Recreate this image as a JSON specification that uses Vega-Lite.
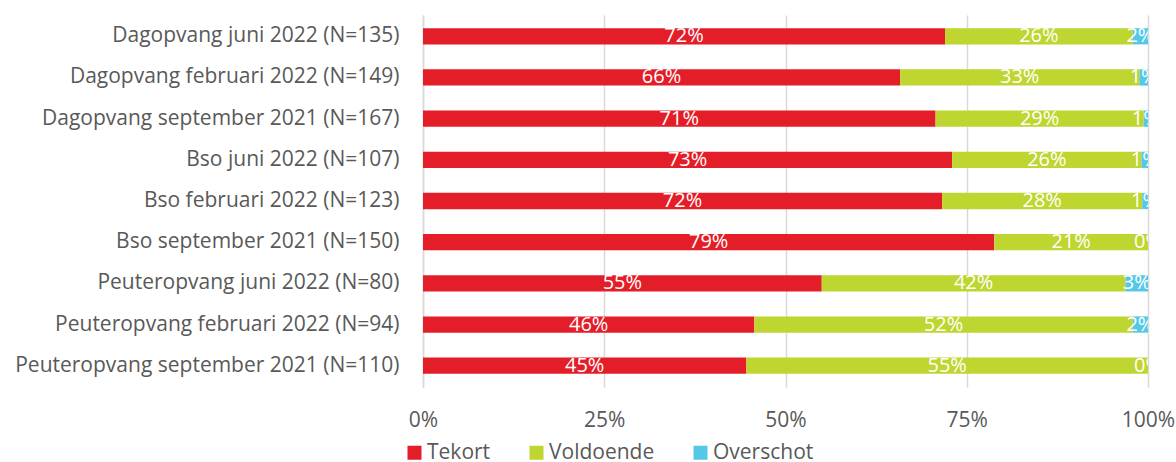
{
  "$schema": "https://vega.github.io/schema/vega-lite/v6.json",
  "width": 725,
  "height": 372,
  "autosize": {"type": "none"},
  "padding": {"left": 423, "top": 15, "right": 28, "bottom": 75},
  "config": {"font": "Open Sans", "view": {"stroke": null}},
  "data": {
    "values": [
      {"cat": "Dagopvang juni 2022 (N=135)", "s": "Tekort", "k": 1, "v": 0.72},
      {"cat": "Dagopvang juni 2022 (N=135)", "s": "Voldoende", "k": 2, "v": 0.259},
      {"cat": "Dagopvang juni 2022 (N=135)", "s": "Overschot", "k": 3, "v": 0.021},
      {"cat": "Dagopvang februari 2022 (N=149)", "s": "Tekort", "k": 1, "v": 0.658},
      {"cat": "Dagopvang februari 2022 (N=149)", "s": "Voldoende", "k": 2, "v": 0.33},
      {"cat": "Dagopvang februari 2022 (N=149)", "s": "Overschot", "k": 3, "v": 0.012},
      {"cat": "Dagopvang september 2021 (N=167)", "s": "Tekort", "k": 1, "v": 0.707},
      {"cat": "Dagopvang september 2021 (N=167)", "s": "Voldoende", "k": 2, "v": 0.287},
      {"cat": "Dagopvang september 2021 (N=167)", "s": "Overschot", "k": 3, "v": 0.006},
      {"cat": "Bso juni 2022 (N=107)", "s": "Tekort", "k": 1, "v": 0.73},
      {"cat": "Bso juni 2022 (N=107)", "s": "Voldoende", "k": 2, "v": 0.261},
      {"cat": "Bso juni 2022 (N=107)", "s": "Overschot", "k": 3, "v": 0.009},
      {"cat": "Bso februari 2022 (N=123)", "s": "Tekort", "k": 1, "v": 0.716},
      {"cat": "Bso februari 2022 (N=123)", "s": "Voldoende", "k": 2, "v": 0.276},
      {"cat": "Bso februari 2022 (N=123)", "s": "Overschot", "k": 3, "v": 0.008},
      {"cat": "Bso september 2021 (N=150)", "s": "Tekort", "k": 1, "v": 0.788},
      {"cat": "Bso september 2021 (N=150)", "s": "Voldoende", "k": 2, "v": 0.212},
      {"cat": "Bso september 2021 (N=150)", "s": "Overschot", "k": 3, "v": 0},
      {"cat": "Peuteropvang juni 2022 (N=80)", "s": "Tekort", "k": 1, "v": 0.55},
      {"cat": "Peuteropvang juni 2022 (N=80)", "s": "Voldoende", "k": 2, "v": 0.419},
      {"cat": "Peuteropvang juni 2022 (N=80)", "s": "Overschot", "k": 3, "v": 0.031},
      {"cat": "Peuteropvang februari 2022 (N=94)", "s": "Tekort", "k": 1, "v": 0.457},
      {"cat": "Peuteropvang februari 2022 (N=94)", "s": "Voldoende", "k": 2, "v": 0.522},
      {"cat": "Peuteropvang februari 2022 (N=94)", "s": "Overschot", "k": 3, "v": 0.021},
      {"cat": "Peuteropvang september 2021 (N=110)", "s": "Tekort", "k": 1, "v": 0.446},
      {"cat": "Peuteropvang september 2021 (N=110)", "s": "Voldoende", "k": 2, "v": 0.554},
      {"cat": "Peuteropvang september 2021 (N=110)", "s": "Overschot", "k": 3, "v": 0}
    ]
  },
  "transform": [
    {"stack": "v", "groupby": ["cat"], "sort": [{"field": "k", "order": "ascending"}], "as": ["v0", "v1"]},
    {"calculate": "(datum.v0 + datum.v1) / 2", "as": "mid"}
  ],
  "encoding": {
    "y": {
      "field": "cat",
      "type": "nominal",
      "sort": null,
      "scale": {"paddingInner": 0.605, "paddingOuter": 0.32},
      "axis": {
        "title": null,
        "ticks": false,
        "domain": true,
        "domainColor": "#D9D9D9",
        "domainWidth": 1.5,
        "labelPadding": 24,
        "labelLimit": 0,
        "labelFontSize": 21,
        "labelColor": "#595959",
        "labelFont": "Open Sans"
      }
    }
  },
  "layer": [
    {
      "mark": {"type": "bar"},
      "encoding": {
        "x": {
          "field": "v0",
          "type": "quantitative",
          "scale": {"domain": [0, 1], "nice": false},
          "axis": {
            "title": null,
            "format": ".0%",
            "values": [0, 0.25, 0.5, 0.75, 1],
            "grid": true,
            "gridColor": "#D9D9D9",
            "gridWidth": 1.5,
            "domain": false,
            "ticks": false,
            "labelPadding": 22,
            "labelFlush": false,
            "labelOverlap": false,
            "labelFontSize": 21,
            "labelColor": "#595959",
            "labelFont": "Open Sans"
          }
        },
        "x2": {"field": "v1"},
        "color": {
          "field": "s",
          "type": "nominal",
          "scale": {"domain": ["Tekort", "Voldoende", "Overschot"], "range": ["#E31E28", "#BFD530", "#55C8E8"]},
          "legend": {
            "title": null,
            "orient": "none",
            "direction": "horizontal",
            "legendX": -19,
            "legendY": 427,
            "symbolType": "square",
            "symbolSize": 196,
            "symbolStrokeWidth": 0,
            "symbolOpacity": 1,
            "columnPadding": 35,
            "labelOffset": 2,
            "labelFontSize": 21,
            "labelColor": "#595959",
            "labelFont": "Open Sans"
          }
        }
      }
    },
    {
      "mark": {"type": "text", "color": "white", "fontSize": 20, "font": "Open Sans", "baseline": "middle", "align": "center", "clip": true},
      "encoding": {
        "x": {"field": "mid", "type": "quantitative"},
        "text": {"field": "v", "type": "quantitative", "format": ".0%"}
      }
    }
  ]
}
